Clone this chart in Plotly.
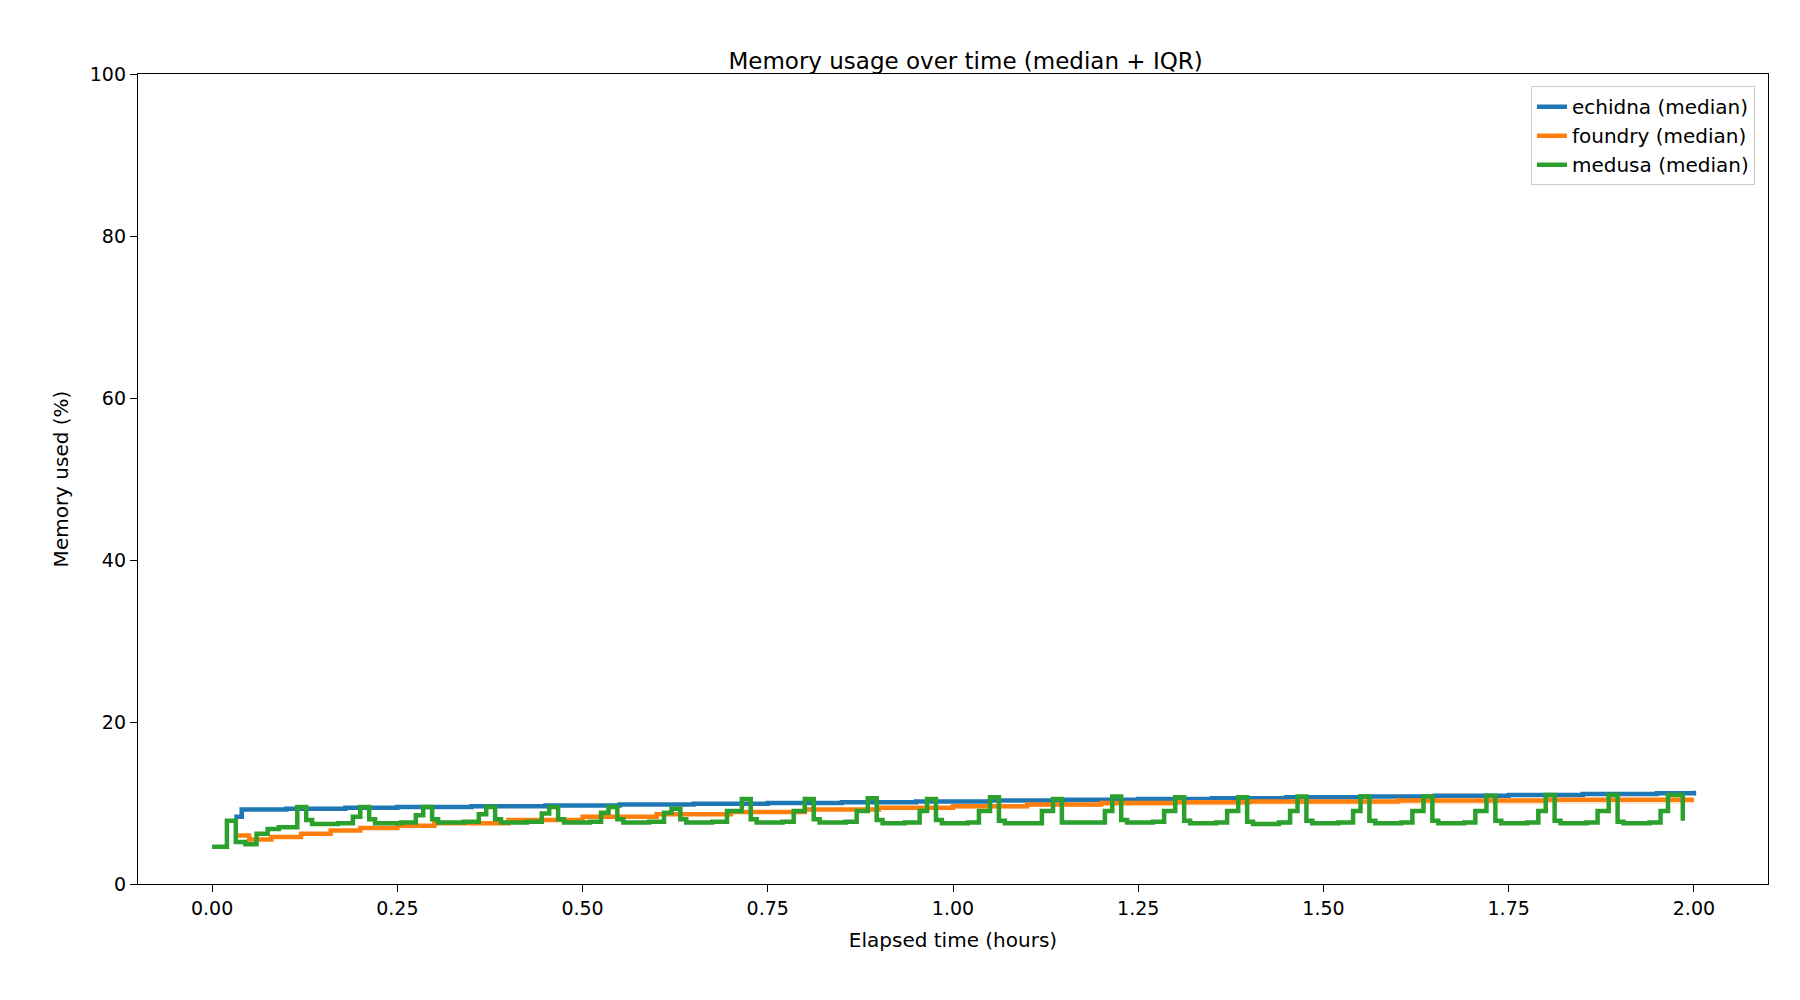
import plotly.graph_objects as go

echidna_t = [0.03, 0.04, 0.10, 0.18, 0.25, 0.35, 0.45, 0.55, 0.65, 0.75, 0.85, 0.95, 1.05, 1.15, 1.25, 1.35, 1.45, 1.55, 1.65, 1.75, 1.85, 1.95, 2.0]
echidna_y = [8.3, 9.2, 9.3, 9.4, 9.5, 9.6, 9.7, 9.8, 9.9, 10.0, 10.1, 10.2, 10.3, 10.4, 10.5, 10.6, 10.7, 10.8, 10.9, 11.0, 11.1, 11.2, 11.5]
foundry_t = [0.03, 0.05, 0.08, 0.12, 0.16, 0.2, 0.25, 0.3, 0.4, 0.5, 0.6, 0.7, 0.8, 0.9, 1.0, 1.1, 1.2, 1.3, 1.4, 1.6, 1.8, 2.0]
foundry_y = [6.0, 5.5, 5.8, 6.2, 6.6, 6.9, 7.2, 7.5, 7.9, 8.3, 8.6, 8.9, 9.2, 9.4, 9.6, 9.8, 10.0, 10.1, 10.2, 10.3, 10.4, 10.4]
foundry_lo = [5.8, 5.3, 5.6, 6.0, 6.4, 6.7, 7.0, 7.3, 7.7, 8.1, 8.4, 8.7, 9.0, 9.1, 9.3, 9.5, 9.6, 9.7, 9.8, 9.8, 9.9, 9.9]
foundry_hi = [6.2, 5.7, 6.0, 6.4, 6.8, 7.1, 7.4, 7.7, 8.1, 8.5, 8.8, 9.1, 9.4, 9.6, 9.8, 10.0, 10.2, 10.3, 10.4, 10.5, 10.6, 10.6]
medusa_t = [0, 0.02, 0.032, 0.045, 0.06, 0.075, 0.09,
            0.115, 0.127, 0.135, 0.17, 0.19,
            0.2, 0.212, 0.22, 0.255, 0.275,
            0.285, 0.297, 0.305, 0.34, 0.36,
            0.37, 0.382, 0.39, 0.425, 0.445,
            0.455, 0.467, 0.475, 0.51, 0.525,
            0.535, 0.547, 0.555, 0.59, 0.61,
            0.62, 0.632, 0.64, 0.675, 0.695,
            0.715, 0.727, 0.735, 0.77, 0.785,
            0.8, 0.812, 0.82, 0.855, 0.87,
            0.885, 0.897, 0.905, 0.935, 0.955,
            0.965, 0.977, 0.985, 1.02, 1.035,
            1.05, 1.062, 1.07, 1.105, 1.12,
            1.135, 1.147, 1.155, 1.19, 1.205,
            1.215, 1.227, 1.235, 1.27, 1.285,
            1.3, 1.312, 1.32, 1.355, 1.37,
            1.385, 1.397, 1.405, 1.44, 1.455,
            1.465, 1.477, 1.485, 1.52, 1.54,
            1.55, 1.562, 1.57, 1.605, 1.62,
            1.635, 1.647, 1.655, 1.69, 1.705,
            1.72, 1.732, 1.74, 1.775, 1.79,
            1.8, 1.812, 1.82, 1.855, 1.87,
            1.885, 1.897, 1.905, 1.94, 1.955,
            1.965, 1.985]
medusa_y = [4.6, 7.8, 5.2, 4.9, 6.2, 6.8, 7.0,
            9.5, 7.9, 7.4, 7.5, 8.3,
            9.5, 8.0, 7.5, 7.6, 8.5,
            9.5, 8.0, 7.6, 7.7, 8.6,
            9.5, 8.0, 7.6, 7.7, 8.7,
            9.5, 8.0, 7.6, 7.7, 8.8,
            9.5, 8.0, 7.6, 7.7, 8.8,
            9.3, 8.0, 7.6, 7.7, 9.0,
            10.5, 8.0, 7.6, 7.7, 9.0,
            10.5, 8.0, 7.6, 7.7, 9.0,
            10.6, 7.9, 7.5, 7.6, 9.0,
            10.5, 7.9, 7.5, 7.6, 9.0,
            10.7, 7.8, 7.5, 7.5, 9.0,
            10.5, 7.6, 7.6, 7.6, 9.0,
            10.8, 7.9, 7.6, 7.7, 9.0,
            10.7, 7.8, 7.5, 7.6, 9.0,
            10.7, 7.7, 7.4, 7.6, 9.0,
            10.8, 7.8, 7.5, 7.6, 9.0,
            10.8, 7.8, 7.5, 7.6, 9.0,
            10.8, 7.8, 7.5, 7.6, 9.0,
            10.9, 7.8, 7.5, 7.6, 9.0,
            11.0, 7.8, 7.5, 7.6, 9.0,
            11.0, 7.7, 7.5, 7.6, 9.0,
            11.0, 7.8]
x_ticks = [0, 0.25, 0.5, 0.75, 1.0, 1.25, 1.5, 1.75, 2.0]
y_ticks = [0, 20, 40, 60, 80, 100]

fig = go.Figure()
fig.add_trace(go.Scatter(x=foundry_t, y=foundry_hi, mode="lines", line=dict(width=0, shape="hv"), showlegend=False, hoverinfo="skip"))
fig.add_trace(go.Scatter(x=foundry_t, y=foundry_lo, mode="lines", line=dict(width=0, shape="hv"), fill="tonexty", fillcolor="rgba(255,127,14,0.2)", showlegend=False, hoverinfo="skip"))
fig.add_trace(go.Scatter(x=echidna_t, y=echidna_y, mode="lines", name="echidna (median)", line=dict(color="#1f77b4", width=4.5, shape="hv")))
fig.add_trace(go.Scatter(x=foundry_t, y=foundry_y, mode="lines", name="foundry (median)", line=dict(color="#ff7f0e", width=4.5, shape="hv")))
fig.add_trace(go.Scatter(x=medusa_t, y=medusa_y, mode="lines", name="medusa (median)", line=dict(color="#2ca02c", width=4.5, shape="hv")))

ax = dict(showline=True, linecolor="black", linewidth=1.3, mirror=True, ticks="outside", ticklen=7, tickcolor="black", showgrid=False, zeroline=False, tickfont=dict(size=19, color="black"))
fig.update_layout(
    width=1800, height=1000, paper_bgcolor="white", plot_bgcolor="white",
    font=dict(family="DejaVu Sans", color="black"),
    title=dict(text="Memory usage over time (median + IQR)", x=0.532, xanchor="center", y=0.955, font=dict(size=23)),
    margin=dict(l=130, r=40, t=66, b=124),
    xaxis=dict(ax, range=[-0.1, 2.1], tickvals=x_ticks, ticktext=[f"{v:.2f}" for v in x_ticks],
               title=dict(text="Elapsed time (hours)", font=dict(size=20))),
    yaxis=dict(ax, range=[0, 100], tickvals=y_ticks, title=dict(text="Memory used (%)", font=dict(size=20))),
    legend=dict(x=0.992, y=0.985, xanchor="right", yanchor="top", bordercolor="#cccccc", borderwidth=1,
                traceorder="normal", font=dict(size=20), bgcolor="rgba(255,255,255,0.8)"),
)
fig.write_html("out.html")
